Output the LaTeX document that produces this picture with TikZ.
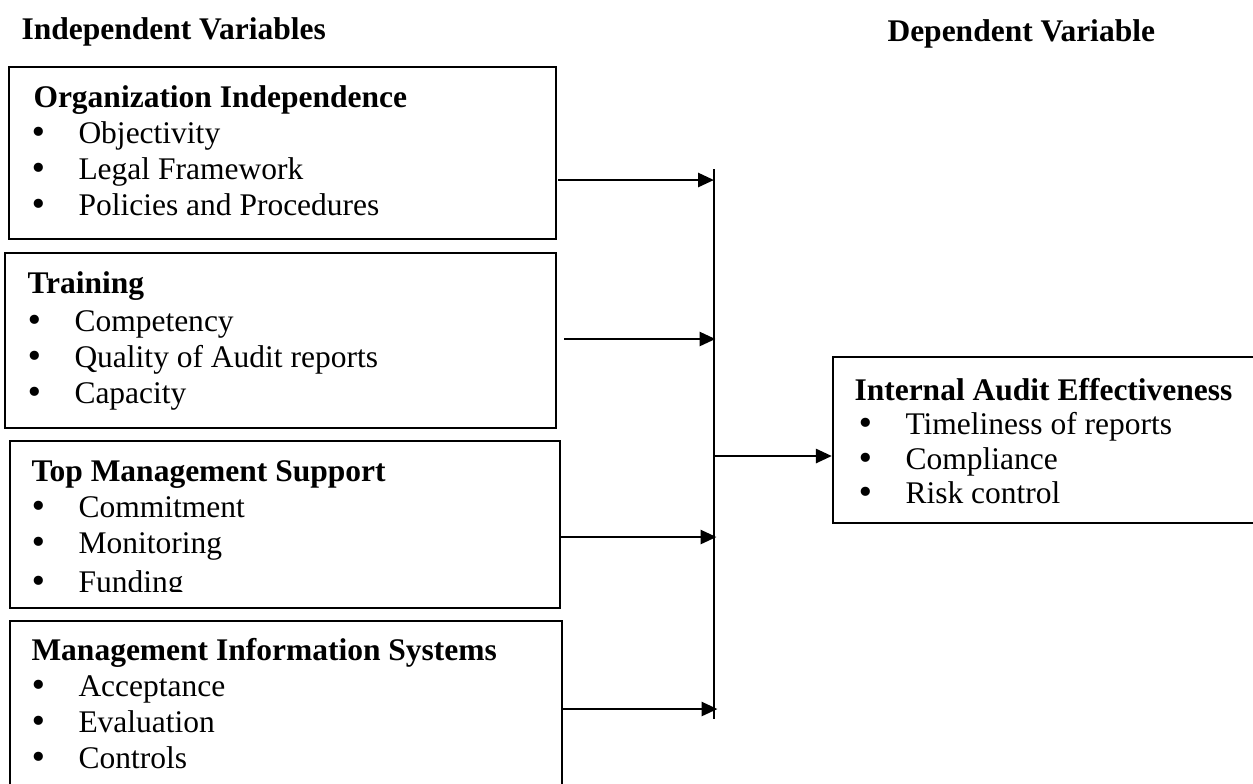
\documentclass[tikz,border=0pt]{standalone}
\usepackage{fontspec}
\setmainfont{Liberation Serif}
\newfontfamily\bulletfont{DejaVu Sans}
\usetikzlibrary{arrows.meta,fit}
\begin{document}
\begin{tikzpicture}[x=0.4pt,y=-0.4pt,
  frame/.style={draw, line width=0.9pt, inner sep=0pt},
  head/.style={anchor=base west, inner sep=0pt, font=\fontsize{12.6}{15}\selectfont\bfseries},
  item/.style={anchor=base west, inner sep=0pt, font=\fontsize{12.6}{15}\selectfont},
  bul/.style={anchor=base, inner sep=0pt, font=\bulletfont\fontsize{12.6}{15}\selectfont},
  arr/.style={line width=1.1pt, -{Triangle[length=6.4pt,width=5.6pt]}},
  busline/.style={line width=0.9pt}]
\useasboundingbox (0,0) rectangle (1253,783);
\clip (0,0) rectangle (1253,783);

% column titles
\node[head] (tiv) at (21,39) {Independent Variables};
\node[head] (tdv) at (887,41) {Dependent Variable};

% box corners
\coordinate (b1a) at (9,67);    \coordinate (b1b) at (556,239);
\coordinate (b2a) at (5,253);   \coordinate (b2b) at (556,428);
\coordinate (b3a) at (10,441);  \coordinate (b3b) at (560,608);
\coordinate (b4a) at (10,621);  \coordinate (b4b) at (562,800);
\coordinate (bda) at (833,357); \coordinate (bdb) at (1280,523);
\node[frame, fit=(b1a)(b1b)] (b1) {};
\node[frame, fit=(b2a)(b2b)] (b2) {};
\node[frame, fit=(b3a)(b3b)] (b3) {};
\node[frame, fit=(b4a)(b4b)] (b4) {};
\node[frame, fit=(bda)(bdb)] (bd) {};

% Organization Independence
\node[head] (h1) at (33,107) {Organization Independence};
\node[bul] (d11) at (39,143) {•}; \node[item] (i11) at (78,143) {Objectivity};
\node[bul] (d12) at (39,179) {•}; \node[item] (i12) at (78,179) {Legal Framework};
\node[bul] (d13) at (39,215) {•}; \node[item] (i13) at (78,215) {Policies and Procedures};

% Training
\node[head] (h2) at (27,293) {Training};
\node[bul] (d21) at (35,331) {•}; \node[item] (i21) at (74,331) {Competency};
\node[bul] (d22) at (35,367) {•}; \node[item] (i22) at (74,367) {Quality of Audit reports};
\node[bul] (d23) at (35,403) {•}; \node[item] (i23) at (74,403) {Capacity};

% Top Management Support (last line cut by the frame)
\node[head] (h3) at (31,481) {Top Management Support};
\node[bul] (d31) at (39,517) {•}; \node[item] (i31) at (78,517) {Commitment};
\node[bul] (d32) at (39,553) {•}; \node[item] (i32) at (78,553) {Monitoring};
\begin{scope}
  \clip (b3a) rectangle (560,591);
  \node[bul] (d33) at (39,592) {•}; \node[item] (i33) at (78,592) {Funding};
\end{scope}

% Management Information Systems
\node[head] (h4) at (31,660) {Management Information Systems};
\node[bul] (d41) at (39,696) {•}; \node[item] (i41) at (78,696) {Acceptance};
\node[bul] (d42) at (39,732) {•}; \node[item] (i42) at (78,732) {Evaluation};
\node[bul] (d43) at (39,768) {•}; \node[item] (i43) at (78,768) {Controls};

% Internal Audit Effectiveness
\node[head] (hd) at (854,400) {Internal Audit Effectiveness};
\node[bul] (dd1) at (866,434) {•}; \node[item] (id1) at (905,434) {Timeliness of reports};
\node[bul] (dd2) at (866,469) {•}; \node[item] (id2) at (905,469) {Compliance};
\node[bul] (dd3) at (866,503) {•}; \node[item] (id3) at (905,503) {Risk control};

% collecting line
\coordinate (bustop) at (714,169);
\coordinate (busbot) at (714,719);
\draw[busline] (bustop) -- (busbot);

% arrows from each independent variable
\coordinate (s1) at (558,180);
\coordinate (s2) at (564,339);
\coordinate (s3) at (560,537);
\coordinate (s4) at (562,709);
\draw[arr] (s1) -- (s1 -| bustop);
\draw[arr] (s2) -- ([xshift=0.6pt]s2 -| bustop);
\draw[arr] (s3) -- ([xshift=1pt]s3 -| bustop);
\draw[arr] (s4) -- ([xshift=1.4pt]s4 -| bustop);

% arrow to the dependent variable
\coordinate (sd) at (714,456);
\draw[arr] (sd) -- (sd -| bd.west);
\end{tikzpicture}
\end{document}
